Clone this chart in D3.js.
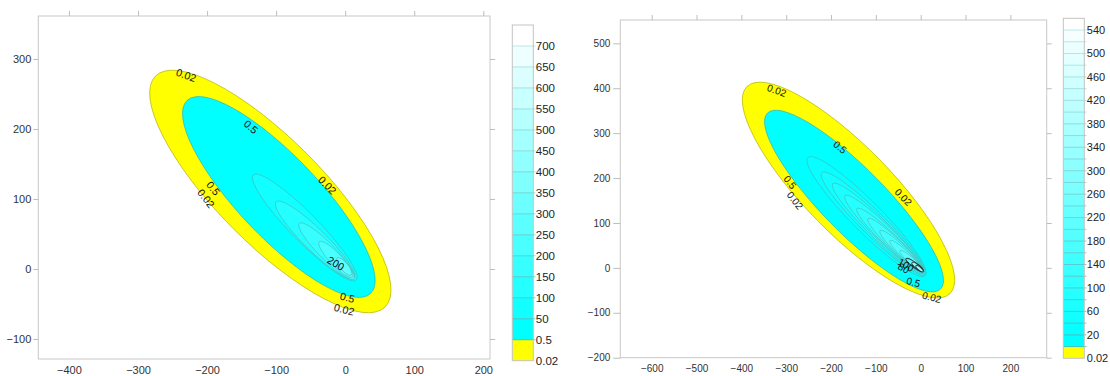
<!DOCTYPE html>
<html lang="en">
<head>
<meta charset="UTF-8">
<title>Contour plots</title>
<style>
  body { margin: 0; background: #fff; }
  svg text { font-family: "Liberation Sans", Arial, sans-serif; }
</style>
<script src="https://d3js.org/d3.v7.min.js"></script>
</head>
<body>
<svg id="chart" width="1110" height="376"></svg>
<script>
  // ---------- left panel data ----------
  var leftXTicks = [-400, -300, -200, -100, 0, 100, 200];
  var leftYTicks = [-100, 0, 100, 200, 300];
  var leftBarLevels = [0.02, 0.5, 50, 100, 150, 200, 250, 300, 350, 400, 450, 500, 550, 600, 650, 700];
  var leftBarLabels = [0.02, 0.5, 50, 100, 150, 200, 250, 300, 350, 400, 450, 500, 550, 600, 650, 700];
  // contour rings: level, the two ends of the long axis and the half width (data units)
  var leftLevels = [0.02, 0.5, 50, 100, 150, 200, 250];
  var leftEndA = [[-274.6, 275.7], [-229, 240.7], [-132.9, 134.3], [-100.1, 96.1], [-66.5, 65.3], [-37.6, 39], [-11.6, 15.7]];
  var leftEndB = [[57.8, -54.3], [36.8, -35], [15.9, -15.7], [13, -13.3], [13, -14.3], [10.5, -11.4], [8.7, -8.6]];
  var leftHalfWidth = [75.5, 58, 20, 15.8, 11.5, 8.6, 5.7];
  var leftLabelText = ["0.02", "0.5", "0.02", "0.5", "0.02", "200", "0.5", "0.02"];
  var leftLabelX = [-230.2, -136.3, -25.6, -190.8, -201.3, -13.4, 3.3, -1.4];
  var leftLabelY = [277.1, 203.3, 120, 115.3, 101, 8.1, -40.4, -57.6];
  var leftLabelAngle = [20, 40, 45, 52, 52, 30, 15, 15];

  // ---------- right panel data ----------
  var rightXTicks = [-600, -500, -400, -300, -200, -100, 0, 100, 200];
  var rightYTicks = [-200, -100, 0, 100, 200, 300, 400, 500];
  var rightBarLevels = [0.02, 0.5, 20, 40, 60, 80, 100, 120, 140, 160, 180, 200, 220, 240, 260, 280,
                        300, 320, 340, 360, 380, 400, 420, 440, 460, 480, 500, 520, 540];
  var rightBarLabels = [0.02, 20, 60, 100, 140, 180, 220, 260, 300, 340, 380, 420, 460, 500, 540];
  var rightLevels = [0.02, 0.5, 20, 40, 60, 80, 100, 120, 140, 160, 180, 200, 260, 340];
  var rightEndA = [[-387.5, 403.8], [-341.7, 344.8], [-251.4, 245.7], [-220.6, 212.2], [-196.1, 187.8],
                   [-168.9, 161], [-142.1, 132.1], [-117.6, 109.8], [-90.8, 83.1], [-68.5, 60.8],
                   [-46.2, 38.5], [-32.8, 20.7], [-19.4, 11.8], [-10.5, 5.1]];
  var rightEndB = [[65.4, -57.2], [44.2, -47.2], [9.6, -17.1], [9.6, -14.9], [7.4, -12.7],
                   [7.4, -10.5], [5.1, -8.2], [5.1, -8.2], [2.9, -6], [2.9, -6],
                   [2.9, -6], [5.1, -7.1], [5.1, -7.1], [5.1, -8.2]];
  var rightHalfWidth = [97, 71.3, 33.5, 26.8, 22.3, 19, 15.6, 13.4, 11.2, 8.9, 7.1, 5.6, 4.5, 3.6];
  var rightLabelText = ["0.02", "0.5", "0.02", "0.5", "0.02", "0.5", "0.02", "100", "80"];
  var rightLabelX = [-321.2, -180, -38.8, -291.5, -280.4, -16.5, 24.5, -33, -38];
  var rightLabelY = [394.9, 268.6, 157.2, 190.6, 149.9, -32.1, -65.5, 6, -1];
  var rightLabelAngle = [20, 40, 45, 52, 52, 15, 15, 30, 30];

  var svg = d3.select("#chart");

  function bandColor(i, n) {
    if (i === 0) return "#ffff00";
    return d3.interpolateRgb("#00ffff", "#ffffff")((i - 1) / (n - 2));
  }

  function drawPanel(p) {
    var x = d3.scaleLinear().domain(p.xDomain).range([p.left, p.right]);
    var y = d3.scaleLinear().domain(p.yDomain).range([p.bottom, p.top]);
    var nBands = p.barLevels.length;
    var k = (Math.abs(x(1) - x(0)) + Math.abs(y(1) - y(0))) / 2;

    // contours
    var g = svg.append("g");
    p.levels.forEach(function(lv, i) {
      var ax = x(p.endA[i][0]), ay = y(p.endA[i][1]);
      var bx = x(p.endB[i][0]), by = y(p.endB[i][1]);
      var cx = (ax + bx) / 2, cy = (ay + by) / 2;
      var ang = Math.atan2(by - ay, bx - ax) * 180 / Math.PI;
      var stroke = i === 0 ? "#b8b400" : (i === 1 ? "#2ab8b8" : (lv >= p.darkFrom ? "#222" : "#4fa8a8"));
      g.append("ellipse")
        .attr("cx", cx).attr("cy", cy)
        .attr("rx", Math.hypot(bx - ax, by - ay) / 2)
        .attr("ry", p.halfWidth[i] * k)
        .attr("transform", "rotate(" + ang + "," + cx + "," + cy + ")")
        .attr("fill", bandColor(p.barLevels.indexOf(lv), nBands))
        .attr("stroke", stroke)
        .attr("stroke-width", i < 2 ? 0.7 : (lv >= p.darkFrom ? 1 : 0.6))
        .attr("stroke-opacity", i < 2 ? 1 : 0.85);
    });

    // contour labels
    p.labelText.forEach(function(t, i) {
      var lx = x(p.labelX[i]), ly = y(p.labelY[i]);
      g.append("text")
        .attr("x", lx).attr("y", ly)
        .attr("transform", "rotate(" + p.labelAngle[i] + "," + lx + "," + ly + ")")
        .attr("text-anchor", "middle")
        .attr("dominant-baseline", "central")
        .attr("font-size", p.labelSize)
        .attr("fill", "#111")
        .text(t);
    });

    // frame
    svg.append("rect")
      .attr("x", p.left).attr("y", p.top)
      .attr("width", p.right - p.left).attr("height", p.bottom - p.top)
      .attr("fill", "none").attr("stroke", "#c8c8c8");

    function styleAxis(sel) {
      sel.select(".domain").remove();
      sel.selectAll(".tick line").attr("stroke", "#bdbdbd");
      sel.selectAll(".tick text").attr("fill", "#333").attr("font-size", p.fontSize);
    }

    svg.append("g").attr("transform", "translate(0," + p.bottom + ")")
      .call(d3.axisBottom(x).tickValues(p.xTicks).tickSize(0).tickPadding(7))
      .call(styleAxis);
    svg.append("g").attr("transform", "translate(0," + p.top + ")")
      .call(d3.axisTop(x).tickValues(p.xTicks).tickSize(5).tickFormat(""))
      .call(styleAxis);
    svg.append("g").attr("transform", "translate(" + p.left + ",0)")
      .call(d3.axisLeft(y).tickValues(p.yTicks).tickSize(p.yTick).tickPadding(p.yPad))
      .call(styleAxis);
    svg.append("g").attr("transform", "translate(" + p.right + ",0)")
      .call(d3.axisRight(y).tickValues(p.yTicks).tickSize(5).tickFormat(""))
      .call(styleAxis);

    // colour bar
    var by = d3.scaleLinear().domain([0, nBands]).range([p.barBottom, p.barTop]);
    var bar = svg.append("g");
    d3.range(nBands).forEach(function(i) {
      bar.append("rect")
        .attr("x", p.barLeft).attr("y", by(i + 1))
        .attr("width", p.barWidth).attr("height", by(i) - by(i + 1))
        .attr("fill", bandColor(i, nBands));
    });
    p.barLevels.forEach(function(lv, i) {
      if (i === 0) return;
      bar.append("line")
        .attr("x1", p.barLeft).attr("x2", p.barLeft + p.barWidth + 2)
        .attr("y1", by(i)).attr("y2", by(i))
        .attr("stroke", d3.interpolateRgb("#2cb4b4", "#b0e4e4")(i / nBands))
        .attr("stroke-width", 0.8);
    });
    bar.append("rect")
      .attr("x", p.barLeft).attr("y", p.barTop)
      .attr("width", p.barWidth).attr("height", p.barBottom - p.barTop)
      .attr("fill", "none").attr("stroke", "#c4c4c4");
    p.barLabels.forEach(function(lv) {
      bar.append("text")
        .attr("x", p.barLeft + p.barWidth + 2.5)
        .attr("y", by(p.barLevels.indexOf(lv)))
        .attr("dy", "0.35em")
        .attr("font-size", p.barFontSize)
        .attr("fill", "#222")
        .text(lv);
    });
  }

  drawPanel({
    xDomain: [-444.4, 209.7], yDomain: [-128.6, 361.4],
    left: 38.3, right: 490, top: 16, bottom: 359,
    xTicks: leftXTicks, yTicks: leftYTicks, yTick: 5, yPad: 2,
    levels: leftLevels, endA: leftEndA, endB: leftEndB, halfWidth: leftHalfWidth, darkFrom: 1e9,
    labelText: leftLabelText, labelX: leftLabelX, labelY: leftLabelY, labelAngle: leftLabelAngle,
    labelSize: 10.5, fontSize: 11, barFontSize: 11.5,
    barLevels: leftBarLevels, barLabels: leftBarLabels,
    barLeft: 512.3, barWidth: 21, barTop: 25, barBottom: 360.7
  });

  drawPanel({
    xDomain: [-670, 281], yDomain: [-200, 552],
    left: 620.3, right: 1046.7, top: 20, bottom: 357.7,
    xTicks: rightXTicks, yTicks: rightYTicks, yTick: 7, yPad: 3,
    levels: rightLevels, endA: rightEndA, endB: rightEndB, halfWidth: rightHalfWidth, darkFrom: 200,
    labelText: rightLabelText, labelX: rightLabelX, labelY: rightLabelY, labelAngle: rightLabelAngle,
    labelSize: 10, fontSize: 10, barFontSize: 11,
    barLevels: rightBarLevels, barLabels: rightBarLabels,
    barLeft: 1063.3, barWidth: 21, barTop: 18.3, barBottom: 358.3
  });
</script>
</body>
</html>
